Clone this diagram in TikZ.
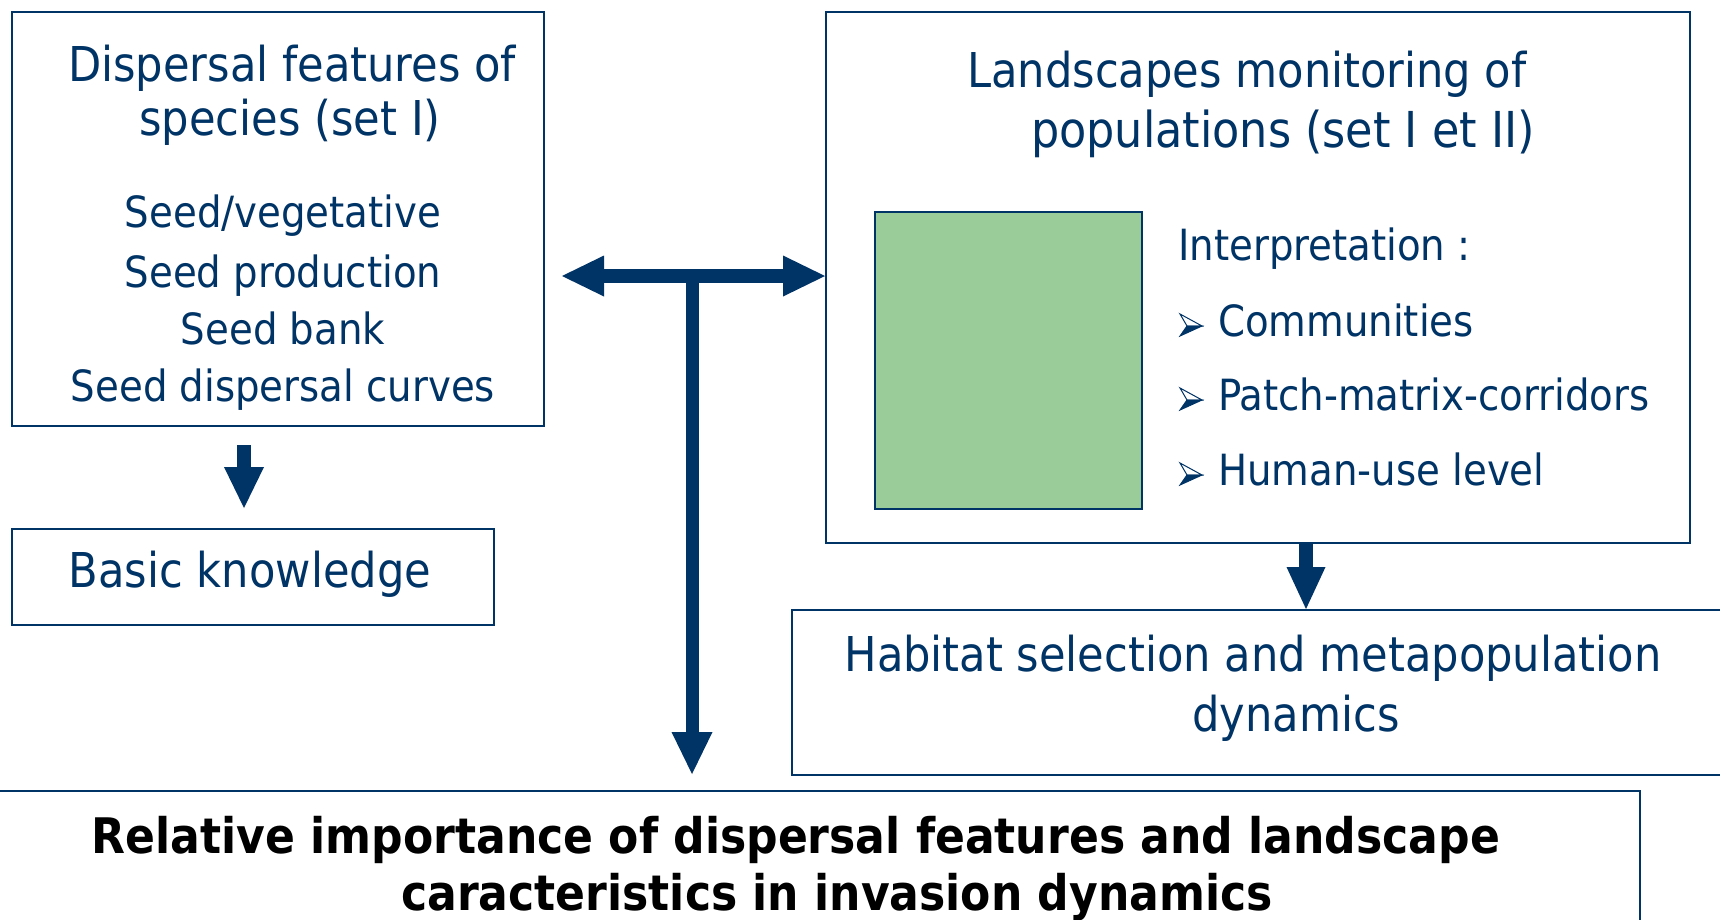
\documentclass[tikz,border=0pt]{standalone}
\usepackage{fontspec}
\setmainfont{DejaVu Sans Condensed}
\usetikzlibrary{arrows.meta}
\definecolor{navy}{RGB}{0,51,102}
\definecolor{mapgreen}{RGB}{153,204,153}
\tikzset{
  frame/.style={draw=navy, line width=2pt, inner sep=0pt, anchor=north west},
  big/.style={text=navy, inner sep=0pt, font=\fontsize{48}{50}\selectfont},
  small/.style={text=navy, inner sep=0pt, font=\fontsize{43}{45}\selectfont},
  boldtext/.style={text=black, inner sep=0pt, font=\bfseries\fontsize{49}{51}\selectfont},
  blockarrow/.style={draw=navy, line width=14pt,
    -{Triangle[width=41pt,length=42pt,line width=0pt]}},
  pics/tipbullet/.style={code={
    \filldraw[navy, line width=1pt, line join=miter] (7,12) -- (22,12) -- (0,22) -- cycle;
    \draw[navy, line width=1pt, line join=miter] (0,0) -- (22,12) -- (7,12) -- cycle;
  }}
}
\begin{document}
\begin{tikzpicture}[x=1pt, y=-1pt]
\useasboundingbox (0,0) rectangle (1720,919);
\clip (0,0) rectangle (1720,919);
\fill[white] (0,0) rectangle (1720,919);

% boxes
\node[frame, minimum width=532pt, minimum height=414pt] (disp) at (11,11) {};
\node[frame, minimum width=482pt, minimum height=96pt] (basic) at (11,528) {};
\node[frame, minimum width=864pt, minimum height=531pt] (land) at (825,11) {};
\node[frame, fill=mapgreen, minimum width=267pt, minimum height=297pt] (map) at (874,211) {};
\node[frame, minimum width=1000pt, minimum height=165pt] (habitat) at (791,609) {};
\node[frame, minimum width=1650pt, minimum height=200pt] (result) at (-11,790) {};

% dispersal features
\node[big, anchor=base] (dtitle1) at (292,81) {Dispersal features of};
\node[big, anchor=base] (dtitle2) at (290,135) {species (set I)};
\node[small, anchor=base] (ditem1) at (283,227) {Seed/vegetative};
\node[small, anchor=base] (ditem2) at (283,287) {Seed production};
\node[small, anchor=base] (ditem3) at (283,344) {Seed bank};
\node[small, anchor=base] (ditem4) at (283,401) {Seed dispersal curves};

\node[big, anchor=base] (basictext) at (250,587) {Basic knowledge};

% landscapes monitoring
\node[big, anchor=base] (ltitle1) at (1247,87) {Landscapes monitoring of};
\node[big, anchor=base, font=\fontsize{49.5}{51}\selectfont] (ltitle2) at (1283,147) {populations (set I et II)};
\node[small, anchor=base west] (interp) at (1178,260) {Interpretation :};
\pic at (1180,314) {tipbullet};
\node[small, anchor=base west] (int1) at (1218,336) {Communities};
\pic at (1180,388) {tipbullet};
\node[small, anchor=base west] (int2) at (1218,410) {Patch-matrix-corridors};
\pic at (1180,463) {tipbullet};
\node[small, anchor=base west] (int3) at (1218,485) {Human-use level};

\node[big, anchor=base] (hab1) at (1253,671) {Habitat selection and metapopulation};
\node[big, anchor=base] (hab2) at (1296,731) {dynamics};

\node[boldtext, anchor=base] (res1) at (796,853) {Relative importance of dispersal features and landscape};
\node[boldtext, anchor=base] (res2) at (837,910) {caracteristics in invasion dynamics};

% connectors
\coordinate (hub) at (692,276);
\coordinate (leftcol) at (244,0);
\coordinate (rightcol) at (1306,0);
\draw[draw=navy, line width=14pt,
  {Triangle[width=41pt,length=42pt,line width=0pt]}-{Triangle[width=41pt,length=42pt,line width=0pt]},
  shorten <=17pt] (disp.east |- hub) -- (land.west |- hub);
\draw[blockarrow, line width=13pt, shorten >=16pt] (hub) -- (hub |- result.north);
\draw[blockarrow, -{Triangle[width=40pt,length=41pt,line width=0pt]},
  shorten <=18pt, shorten >=20pt] (disp.south -| leftcol) -- (basic.north -| leftcol);
\draw[blockarrow, -{Triangle[width=39pt,length=42pt,line width=0pt]}]
  (land.south -| rightcol) -- (habitat.north -| rightcol);
\end{tikzpicture}
\end{document}
